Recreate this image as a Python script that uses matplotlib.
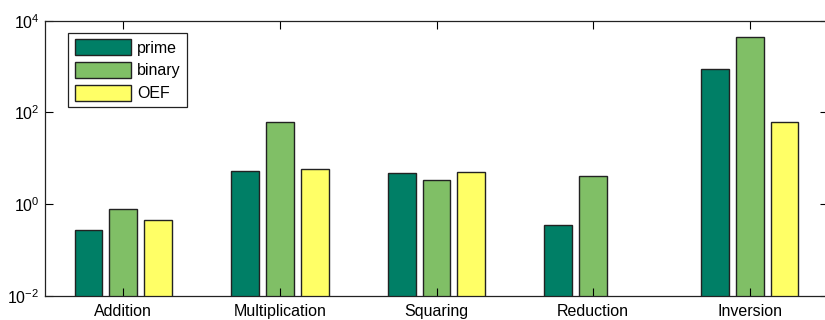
import numpy as np
import matplotlib
matplotlib.use("Agg")
import matplotlib.pyplot as plt

# Operation timings for three field representations (log scale)
categories = ["Addition", "Multiplication", "Squaring", "Reduction", "Inversion"]
series_names = ["prime", "binary", "OEF"]
prime = [0.28, 5.4, 4.8, 0.36, 880]
binary = [0.78, 62, 3.4, 4.2, 4450]
oef = [0.45, 5.9, 5.1, np.nan, 62]
colors = ["#007F66", "#80BF66", "#FFFF66"]

plt.rcParams["font.family"] = ["Liberation Sans", "DejaVu Sans"]

fig = plt.figure(figsize=(8.25, 3.2), dpi=100)
ax = fig.add_axes([45 / 825, 24 / 320, 783 / 825, 275.3 / 320])
ax.set_yscale("log")

x = np.arange(1, len(categories) + 1)
n = len(series_names)
group_w = min(0.8, n / (n + 1.5))
step = group_w / n
width = 0.8 * step
for i, (name, vals, c) in enumerate(zip(series_names, [prime, binary, oef], colors)):
    offs = (i - (n - 1) / 2) * step
    ax.bar(x + offs, vals, width=width, color=c, edgecolor="#222222",
           linewidth=1.0, label=name)

ax.set_xlim(0.5, 5.5)
ax.set_ylim(1e-2, 1e4)
ax.set_xticks(x)
ax.set_xticklabels(categories, fontsize=11.5)
ax.set_yticks([1e-2, 1e0, 1e2, 1e4])
ax.yaxis.set_minor_locator(matplotlib.ticker.NullLocator())
ax.tick_params(axis="both", which="major", direction="in", length=6,
               width=0.8, top=True, right=True, labelsize=11.5, pad=4)
ax.tick_params(axis="x", pad=6)
for s in ax.spines.values():
    s.set_linewidth(0.9)
    s.set_color("#222222")

leg = ax.legend(loc="upper left", bbox_to_anchor=(0.0298, 0.956),
                borderaxespad=0, fancybox=False, framealpha=1,
                edgecolor="#222222", fontsize=11.5, handlelength=3.5,
                handleheight=1.15, labelspacing=0.4, handletextpad=0.4,
                borderpad=0.4)
leg.get_frame().set_linewidth(0.9)

fig.savefig("out.png", dpi=100)
